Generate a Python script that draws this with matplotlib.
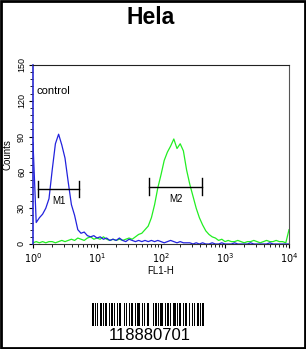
import matplotlib
matplotlib.use("Agg")
import matplotlib.pyplot as plt
import numpy as np
from matplotlib.patches import Rectangle
from matplotlib.ticker import MultipleLocator

plt.rcParams['font.family'] = ['Liberation Sans', 'DejaVu Sans']

# ---- data ----
title = "Hela"
sample_label = "control"
barcode_text = "118880701"

# channel grid, log10(FL1-H) every 0.05 decade from 10^0 to 10^4
log_fl1 = np.arange(0, 4.001, 0.05)

control_counts = [85, 18, 22, 25, 30, 38, 62, 84, 92, 83,
                  72, 52, 33, 24, 12, 9, 10, 7, 6, 7,
                  5, 6, 4, 5, 3, 4, 3, 5, 3, 2,
                  4, 3, 2, 3, 2, 3, 2, 3, 2, 3,
                  2, 1, 2, 3, 2, 1, 2, 1, 1, 1,
                  0, 1, 0, 1, 0, 0, 1, 0, 0, 1,
                  0, 0, 0, 1, 0, 0, 0, 0, 1, 0,
                  0, 0, 0, 0, 1, 0, 0, 0, 0, 0, 0]

sample_counts = [1, 2, 1, 2, 1, 2, 2, 1, 2, 3,
                 2, 3, 4, 3, 5, 4, 3, 5, 6, 4,
                 5, 4, 6, 4, 3, 4, 3, 4, 3, 4,
                 5, 4, 6, 8, 9, 12, 15, 22, 33, 47,
                 58, 70, 77, 82, 88, 80, 84, 78, 62, 50,
                 40, 30, 22, 16, 11, 8, 6, 5, 3, 4,
                 2, 3, 2, 2, 3, 2, 1, 2, 2, 3,
                 2, 1, 2, 3, 2, 2, 3, 2, 2, 1, 12]

markers = {"M1": (1.2, 5.2, 46), "M2": (65, 437, 48)}

# barcode module widths, bar / space alternating
barcode_widths = [2, 1, 1, 1, 1, 2, 2, 1, 1, 1, 2, 2, 1, 1, 3, 1, 1, 2, 1, 1,
                  2, 3, 1, 1, 1, 2, 1, 1, 2, 2, 1, 1, 3, 2, 1, 1, 1, 2, 2, 1,
                  1, 3, 1, 1, 2, 1, 1, 1, 3, 2, 1, 1, 2, 1, 1, 2, 3, 1, 1, 1,
                  2, 2, 1, 1, 2, 3, 1, 2, 1, 1, 1, 2, 2, 1, 1, 1, 2, 3]

W, H = 306, 349
fig = plt.figure(figsize=(W / 100, H / 100), dpi=100)
fig.patch.set_facecolor("white")

# outer frame
fig.patches.append(Rectangle((0.002, 0.002), 0.996, 0.996, transform=fig.transFigure,
                             fill=False, edgecolor="black", linewidth=2))

fig.text(151 / W, 1 - 17 / H, title, ha="center", va="center",
         fontsize=16.5, fontweight="bold")

ax = fig.add_axes([33 / W, 1 - 244 / H, 256 / W, 179 / H])
fl1 = 10 ** log_fl1
ax.plot(fl1, sample_counts, color="#22ee22", linewidth=0.9)
ax.plot(fl1, control_counts, color="#2222dd", linewidth=0.9)

ax.set_xscale("log")
ax.set_xlim(1, 1e4)
ax.set_ylim(0, 150)
ax.yaxis.set_minor_locator(MultipleLocator(6))
ax.set_yticks([0, 30, 60, 90, 120, 150])
ax.set_yticklabels(["0", "30", "60", "90", "120", "150"], rotation=90,
                   va="center", fontsize=6.5)
ax.set_xticks([1, 10, 100, 1000, 10000])
ax.set_xticklabels([r"$10^0$", r"$10^1$", r"$10^2$", r"$10^3$", r"$10^4$"], fontsize=7)
ax.tick_params(axis="both", which="major", length=3, width=0.8, pad=2)
ax.tick_params(axis="both", which="minor", length=2, width=0.6)
ax.set_xlabel("FL1-H", fontsize=7, labelpad=1)
ax.set_ylabel("Counts", fontsize=7, labelpad=3)

ax.spines["left"].set_color("#2a2ad0")
ax.spines["left"].set_linewidth(1.2)
ax.spines["top"].set_color("#222222")
ax.spines["right"].set_color("#555555")
ax.spines["bottom"].set_color("#333333")

ax.text(1.12, 128, sample_label, fontsize=8, ha="left", va="center")

for name, (lo, hi, yv) in markers.items():
    ax.plot([lo, hi], [yv, yv], color="black", linewidth=1)
    ax.plot([lo, lo], [yv - 7, yv + 7], color="black", linewidth=1)
    ax.plot([hi, hi], [yv - 7, yv + 7], color="black", linewidth=1)
    ax.text(np.sqrt(lo * hi), yv - 10, name, fontsize=7, ha="center", va="center")

# barcode
bax = fig.add_axes([92 / W, 1 - 326 / H, 115 / W, 23 / H])
edges = np.concatenate([[0], np.cumsum(barcode_widths)])
bar_left = edges[:-1][::2]
bar_w = np.array(barcode_widths)[::2]
bax.bar(bar_left, np.ones(len(bar_left)), width=bar_w, align="edge",
        color="black", linewidth=0)
bax.set_xlim(0, edges[-1])
bax.set_ylim(0, 1)
bax.axis("off")

fig.text(150 / W, 1 - 336 / H, barcode_text, ha="center", va="center", fontsize=12)

fig.savefig("out.png", dpi=100)
